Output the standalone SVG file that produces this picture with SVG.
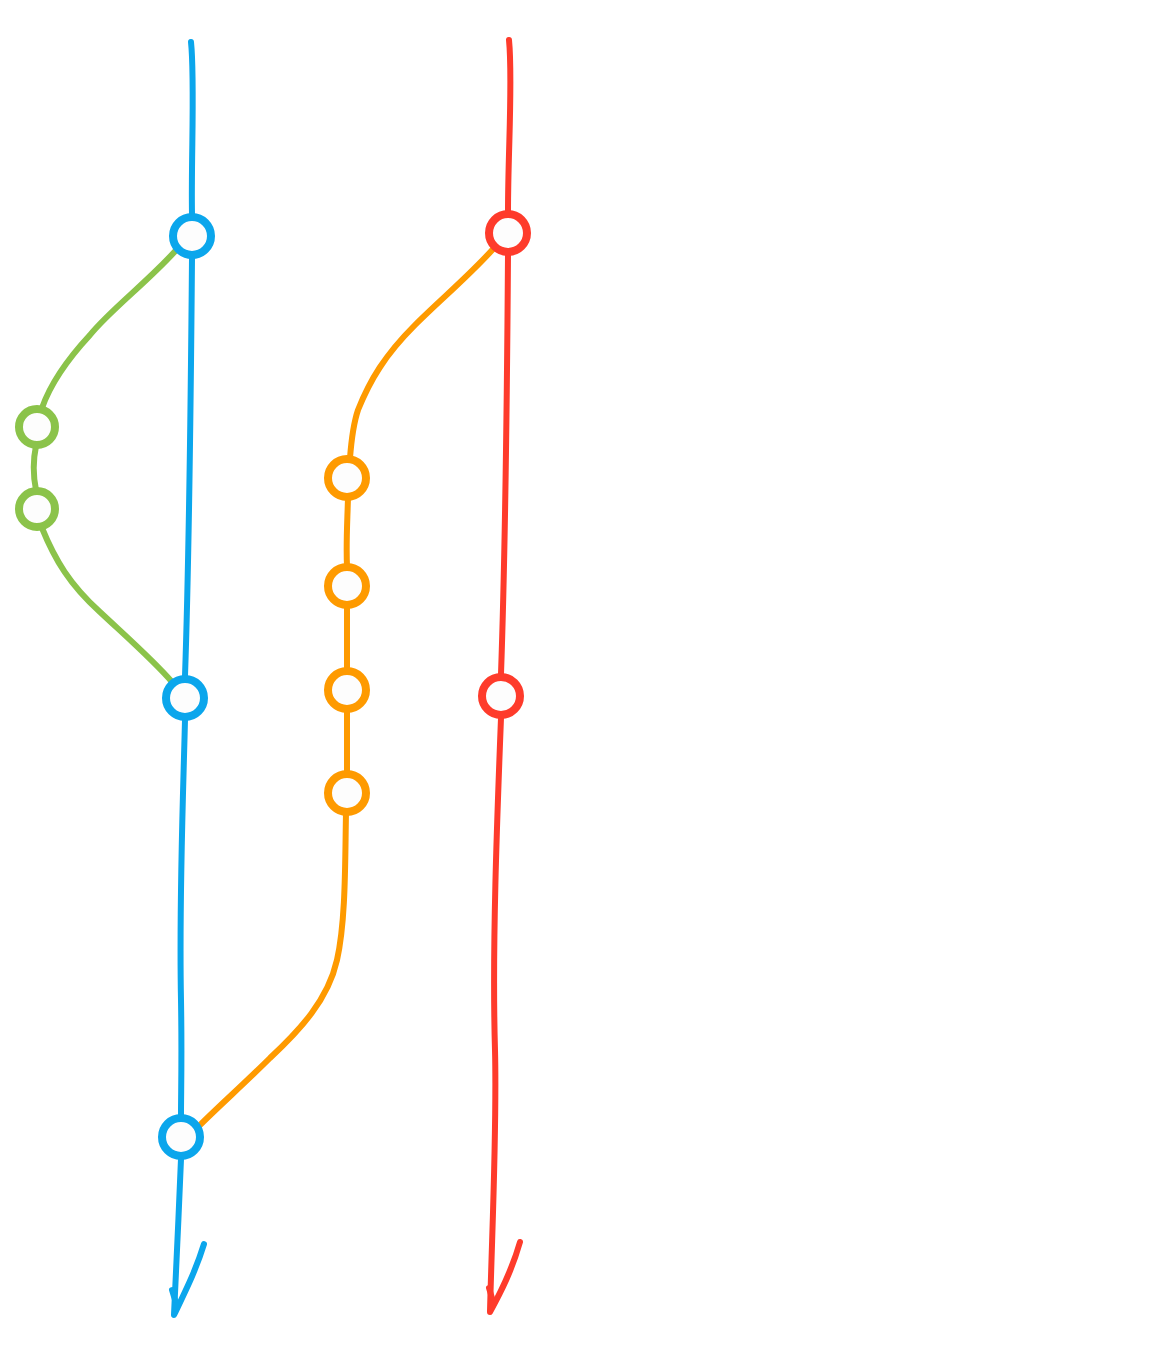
<svg xmlns="http://www.w3.org/2000/svg" width="1173" height="1350" viewBox="0 0 1173 1350">
<style>
.ln{fill:none;stroke-width:6;stroke-linecap:round;stroke-linejoin:round}
.b{stroke:#0ba6ec}.r{stroke:#fe3b2b}.g{stroke:#8bc34a}.o{stroke:#fe9a00}
.n{fill:#fdfdfd;stroke-width:8}
</style>
<rect width="1173" height="1350" fill="#ffffff"/>
<g id="connectors">
<path class="ln b" d="M191,42 C195,80 191,160 192,214"/>
<path class="ln b" d="M192,258 C191,380 189,560 185,676"/>
<path class="ln b" d="M185,720 C183,800 179,900 181,1000 C182,1060 181,1090 181,1115"/>
<path class="ln b" d="M181,1159 C179,1210 176,1270 174,1315 C186,1290 196,1270 204,1244"/>
<path class="ln b" d="M172,1290 L175,1300"/>
<path class="ln r" d="M509,40 C513,80 508,150 508,211"/>
<path class="ln r" d="M508,255 C507,400 505,560 501,674"/>
<path class="ln r" d="M501,718 C497,820 492,950 495,1050 C497,1130 492,1230 490,1312 C502,1290 512,1270 520,1242"/>
<path class="ln r" d="M489,1288 L492,1298"/>
<path class="ln g" d="M178,248 C150,280 110,310 90,335 C65,362 50,385 42,408"/>
<path class="ln g" d="M36,446 C33,460 33,475 36,490"/>
<path class="ln g" d="M42,528 C55,560 70,585 100,612 C130,640 155,662 172,682"/>
<path class="ln o" d="M494,248 C470,275 440,300 415,325 C385,355 370,380 358,410 C353,425 351,445 350,458"/>
<path class="ln o" d="M348,498 C347,530 346,545 347,566"/>
<path class="ln o" d="M347,606 L347,670"/>
<path class="ln o" d="M347,710 L347,773"/>
<path class="ln o" d="M346,813 C345,860 346,920 337,960 C328,1000 300,1030 270,1058 C245,1083 220,1105 199,1126"/>
</g>
<g id="b1"><circle class="n b" cx="192" cy="236" r="19"/></g>
<g id="b2"><circle class="n b" cx="185" cy="698" r="19"/></g>
<g id="b3"><circle class="n b" cx="181" cy="1137" r="19"/></g>
<g id="r1"><circle class="n r" cx="508" cy="233" r="19"/></g>
<g id="r2"><circle class="n r" cx="501" cy="696" r="19"/></g>
<g id="g1"><circle class="n g" cx="37" cy="427" r="18"/></g>
<g id="g2"><circle class="n g" cx="37" cy="509" r="18"/></g>
<g id="o1"><circle class="n o" cx="347" cy="478" r="19"/></g>
<g id="o2"><circle class="n o" cx="347" cy="586" r="19"/></g>
<g id="o3"><circle class="n o" cx="347" cy="690" r="19"/></g>
<g id="o4"><circle class="n o" cx="347" cy="793" r="19"/></g>
</svg>
